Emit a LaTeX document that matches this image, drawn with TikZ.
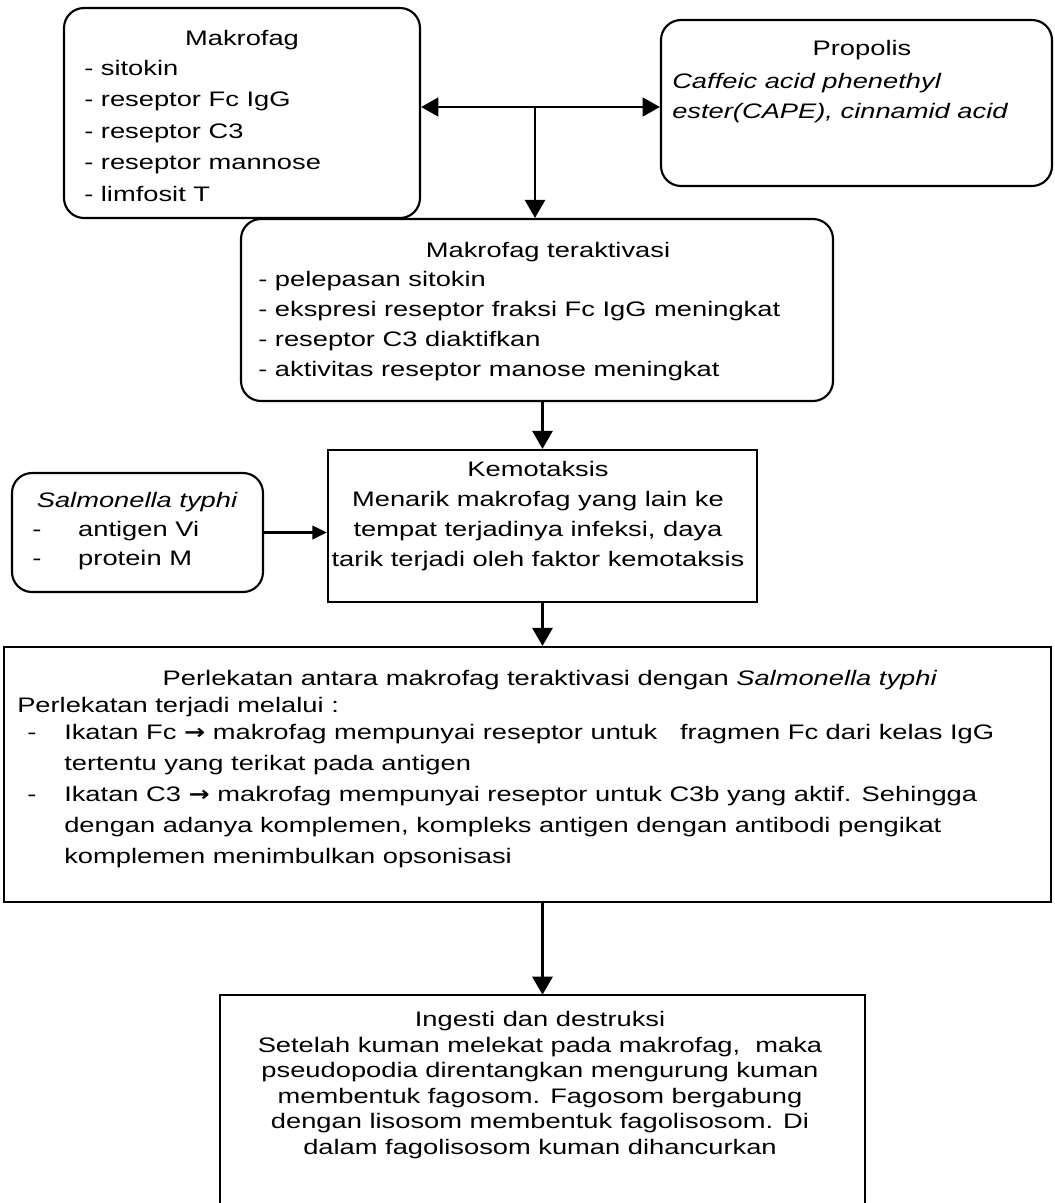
\documentclass[tikz,border=0pt]{standalone}
\usepackage{fontspec}
\setmainfont{Liberation Sans}[FakeStretch=1.3]
\newfontfamily\panahfont{DejaVu Sans}[FakeStretch=1.2]
\usetikzlibrary{arrows.meta,fit}

\newcommand{\fsz}[1]{\fontsize{15.75pt}{#1}\selectfont}
\newcommand{\panah}{{\panahfont\bfseries →}}

\begin{document}
\begin{tikzpicture}[x=0.75pt,y=-0.75pt,
  rbox/.style={draw,line width=1.6pt,rounded corners=15pt,inner sep=0pt},
  sbox/.style={draw,line width=1.6pt,inner sep=0pt},
  txt/.style={inner sep=0pt,font=\fsz{22.5pt}},
  arr/.style={line width=2pt,-{Triangle[length=13.5pt,width=15pt]}},
  arrkecil/.style={line width=2.2pt,-{Triangle[length=11pt,width=10pt]}},
  arrdua/.style={line width=2pt,{Triangle[length=13pt,width=14pt]}-{Triangle[length=13pt,width=14pt]}}]

\useasboundingbox (0,0) rectangle (1054,1203);
\fill[white] (0,0) rectangle (1054,1203);

% Makrofag
\node[rbox,fit={(64,8) (420,218)}] (makrofag) {};
\node[txt,anchor=base] (judulmakrofag) at (242,45) {Makrofag};
\node[txt,anchor=north west,align=left,font=\fsz{23.6pt}] (isimakrofag) at (84,60)
  {- sitokin\\- reseptor Fc IgG\\- reseptor C3\\- reseptor mannose\\- limfosit T};

% Propolis
\node[rbox,fit={(661,20) (1052,186)}] (propolis) {};
\node[txt,anchor=base] (judulpropolis) at (862,55) {Propolis};
\node[txt,anchor=north west,align=left,font=\fsz{22.5pt}\itshape] (isipropolis) at (672,73)
  {Caffeic acid phenethyl\\ester(CAPE), cinnamid acid};

% Makrofag teraktivasi
\node[rbox,fit={(241,219) (833,401)}] (aktivasi) {};
\node[txt,anchor=base] (judulaktivasi) at (548,257) {Makrofag teraktivasi};
\node[txt,anchor=north west,align=left,font=\fsz{22.5pt}] (isiaktivasi) at (258,271)
  {- pelepasan sitokin\\- ekspresi reseptor fraksi Fc IgG meningkat\\- reseptor C3 diaktifkan\\- aktivitas reseptor manose meningkat};

% Salmonella typhi
\node[rbox,fit={(12,473) (263,592)}] (salmonella) {};
\node[txt,anchor=base] (judulsalmonella) at (137,507) {\itshape Salmonella typhi};
\node[txt,anchor=north west,align=left,font=\fsz{21.4pt}] (isisalmonella) at (32,521)
  {\makebox[34.5pt][l]{-}antigen Vi\\\makebox[34.5pt][l]{-}protein M};

% Kemotaksis
\node[sbox,fit={(328,450) (757,602)}] (kemotaksis) {};
\node[txt,anchor=north,align=center,font=\fsz{22.5pt}] (isikemotaksis) at (538,461)
  {Kemotaksis\\Menarik makrofag yang lain ke\\tempat terjadinya infeksi, daya\\tarik terjadi oleh faktor kemotaksis};

% Perlekatan
\node[sbox,fit={(4,647) (1051,902)}] (perlekatan) {};
\node[txt,anchor=base] (judulperlekatan) at (550,685)
  {Perlekatan antara makrofag teraktivasi dengan \textit{Salmonella typhi}};
\node[txt,anchor=base west] (melalui) at (17,712) {Perlekatan terjadi melalui :};
\node[txt,anchor=north west,align=left,font=\fsz{23.3pt}] (isiperlekatan) at (27,724)
  {\makebox[27.75pt][l]{-}Ikatan Fc \panah{} makrofag mempunyai reseptor untuk\ \ \ fragmen Fc dari kelas IgG\\
   \hspace*{27.75pt}tertentu yang terikat pada antigen\\
   \makebox[27.75pt][l]{-}Ikatan C3 \panah{} makrofag mempunyai reseptor untuk C3b yang aktif. Sehingga\\
   \hspace*{27.75pt}dengan adanya komplemen, kompleks antigen dengan antibodi pengikat\\
   \hspace*{27.75pt}komplemen menimbulkan opsonisasi};

% Ingesti dan destruksi (box runs off the bottom edge)
\node[inner sep=0pt,fit={(220,995) (865,1203)}] (ingesti) {};
\draw[line width=1.6pt] (ingesti.south west) |- (ingesti.north east) -- (ingesti.south east);
\node[txt,anchor=north,align=center,font=\fsz{19.2pt}] (isiingesti) at (540,1011)
  {Ingesti dan destruksi\\Setelah kuman melekat pada makrofag,\ \ maka\\pseudopodia direntangkan mengurung kuman\\membentuk fagosom. Fagosom bergabung\\dengan lisosom membentuk fagolisosom. Di\\dalam fagolisosom kuman dihancurkan};

% Panah
\coordinate (simpang) at (535,107);
\draw[arrdua] (makrofag.east |- simpang) -- (propolis.west |- simpang);
\draw[arr] (simpang) -- (simpang |- aktivasi.north);
\draw[arr] (aktivasi.south -| kemotaksis.north) -- (kemotaksis.north);
\draw[arrkecil] (salmonella.east) -- (salmonella.east -| kemotaksis.west);
\draw[arr] (kemotaksis.south) -- (kemotaksis.south |- perlekatan.north);
\draw[arr] (ingesti.north |- perlekatan.south) -- (ingesti.north);

\end{tikzpicture}
\end{document}
